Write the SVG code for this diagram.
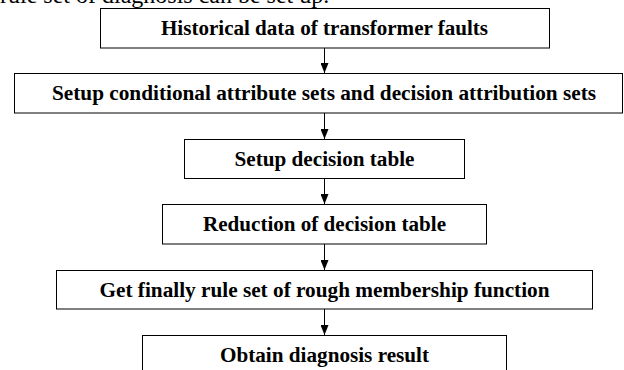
<svg xmlns="http://www.w3.org/2000/svg" width="624" height="370" viewBox="0 0 624 370">
<style>
.box{fill:#fff;stroke:#000;stroke-width:1}
.lbl{font-family:"Liberation Serif","Times New Roman",serif;font-weight:bold;font-size:20px;text-anchor:middle;fill:#000}
.top{font-family:"Liberation Serif","Times New Roman",serif;font-size:24px;fill:#000}
.con{stroke:#000;stroke-width:1;fill:none;marker-end:url(#ah)}
</style>
<defs>
<marker id="ah" markerWidth="10" markerHeight="8" refX="10" refY="4" orient="auto" markerUnits="userSpaceOnUse" viewBox="0 0 10 8">
<path d="M0,0 L10,4 L0,8 Z" fill="#000"/>
</marker>
</defs>
<rect width="624" height="370" fill="#fff"/>
<text class="top" x="0" y="2.5">rule set of diagnosis can be set up.</text>
<g id="connectors">
<line class="con" x1="324.5" y1="48" x2="324.5" y2="73"/>
<line class="con" x1="324.5" y1="113" x2="324.5" y2="139"/>
<line class="con" x1="324.5" y1="178" x2="324.5" y2="204"/>
<line class="con" x1="324.5" y1="244" x2="324.5" y2="270"/>
<line class="con" x1="324.5" y1="309" x2="324.5" y2="335"/>
</g>
<g id="n1"><rect class="box" x="100.5" y="8.5" width="449" height="39.5"/><text class="lbl" x="324.5" y="35" textLength="327" lengthAdjust="spacingAndGlyphs">Historical data of transformer faults</text></g>
<g id="n2"><rect class="box" x="14.5" y="73.5" width="608" height="39.5"/><text class="lbl" x="324" y="100" textLength="544" lengthAdjust="spacingAndGlyphs">Setup conditional attribute sets and decision attribution sets</text></g>
<g id="n3"><rect class="box" x="184.5" y="139.5" width="280" height="39"/><text class="lbl" x="324.5" y="165.5" textLength="180" lengthAdjust="spacingAndGlyphs">Setup decision table</text></g>
<g id="n4"><rect class="box" x="162.5" y="204.5" width="324" height="39.5"/><text class="lbl" x="324.5" y="231" textLength="243" lengthAdjust="spacingAndGlyphs">Reduction of decision table</text></g>
<g id="n5"><rect class="box" x="56.5" y="270.5" width="536" height="38.5"/><text class="lbl" x="324.5" y="296.5" textLength="450" lengthAdjust="spacingAndGlyphs">Get finally rule set of rough membership function</text></g>
<g id="n6"><rect class="box" x="142.5" y="335.5" width="364" height="45"/><text class="lbl" x="324.5" y="362" textLength="209" lengthAdjust="spacingAndGlyphs">Obtain diagnosis result</text></g>
</svg>
